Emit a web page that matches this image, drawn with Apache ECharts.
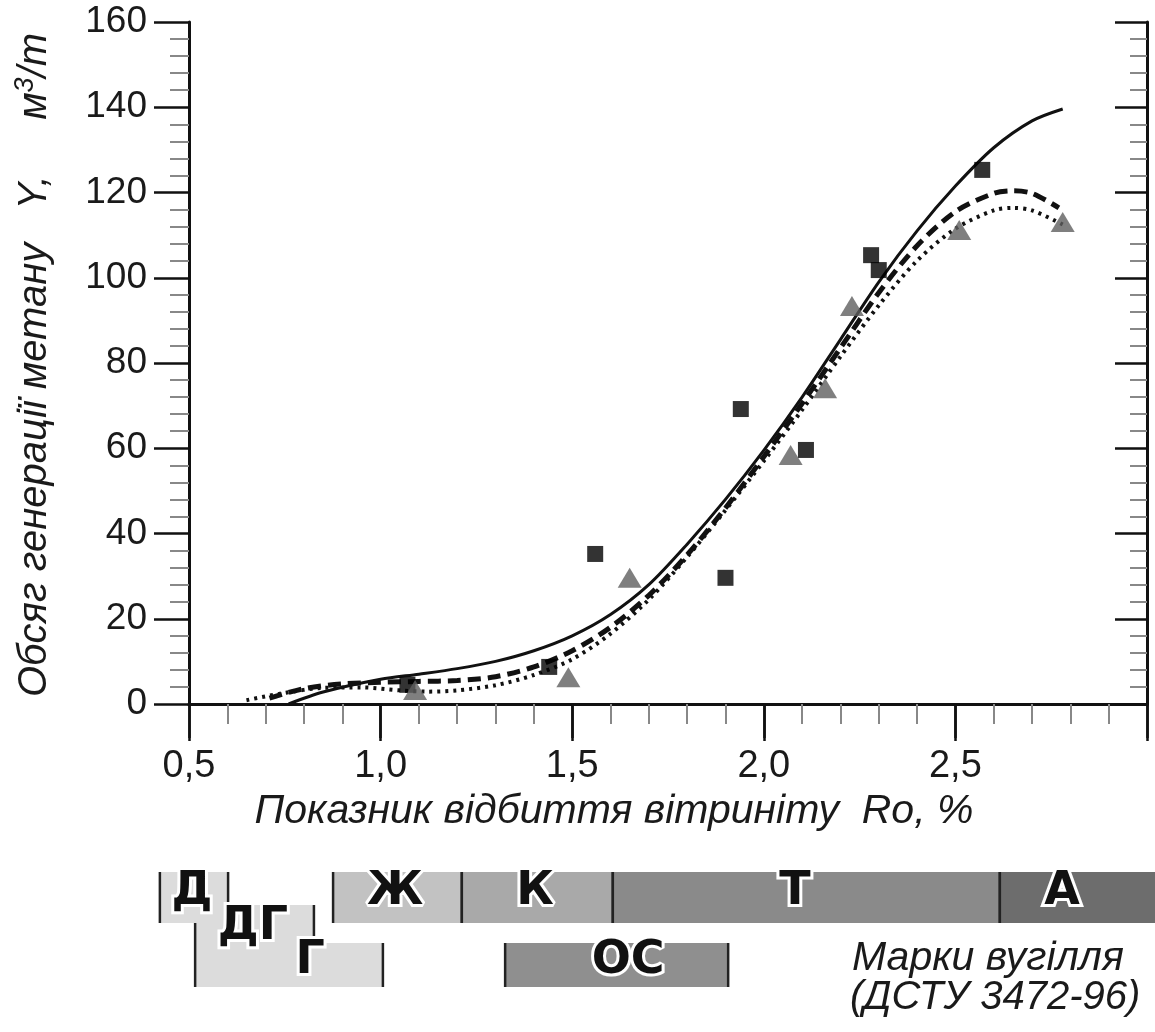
<!DOCTYPE html>
<html>
<head>
<meta charset="utf-8">
<script src="https://cdn.jsdelivr.net/npm/echarts@6/dist/echarts.min.js"></script>
<style>
  html, body { margin: 0; padding: 0; background: #fff; }
  #chart { width: 1155px; height: 1032px; }
</style>
</head>
<body>
<div id="chart"></div>
<script>
// measured points (Ro, %; Y, m3/t)
const squareRo = [1.07, 1.44, 1.56, 1.90, 1.94, 2.11, 2.28, 2.30, 2.57];
const squareY  = [4.5, 8.7, 35.2, 29.6, 69.2, 59.6, 105.3, 101.8, 125.3];
const triRo = [1.09, 1.49, 1.65, 2.07, 2.16, 2.23, 2.51, 2.78];
const triY  = [3.3, 6.3, 29.6, 58.4, 74.1, 93.4, 111.2, 113.1];

// fitted curves
const solidRo = [0.76, 0.85, 1.0, 1.1, 1.2, 1.3, 1.4, 1.5, 1.6, 1.7, 1.8, 1.9, 2.0, 2.1, 2.2, 2.3, 2.4, 2.5, 2.6, 2.7, 2.78];
const solidY  = [0, 2.8, 5.8, 7.0, 8.3, 10.0, 12.5, 16.0, 21.0, 28.0, 37.5, 48.0, 59.5, 72.0, 85.5, 99.0, 111.0, 121.5, 130.5, 136.8, 139.6];
const dashRo = [0.71, 0.8, 0.9, 1.0, 1.1, 1.2, 1.3, 1.4, 1.5, 1.6, 1.7, 1.8, 1.9, 2.0, 2.1, 2.2, 2.3, 2.4, 2.5, 2.6, 2.65, 2.7, 2.77];
const dashY  = [1.4, 3.6, 4.7, 5.1, 5.3, 5.5, 6.4, 8.7, 12.5, 18.0, 25.5, 35.0, 46.0, 58.0, 70.5, 83.5, 96.5, 107.5, 115.5, 119.8, 120.4, 119.8, 116.4];
const dotRo = [0.65, 0.75, 0.85, 0.95, 1.05, 1.12, 1.2, 1.3, 1.4, 1.5, 1.6, 1.7, 1.8, 1.9, 2.0, 2.1, 2.2, 2.3, 2.4, 2.5, 2.6, 2.65, 2.7, 2.78];
const dotY  = [0.9, 2.6, 3.8, 3.9, 3.2, 2.9, 3.2, 4.4, 6.8, 10.5, 16.5, 24.5, 34.5, 45.5, 57.0, 69.0, 81.5, 93.5, 104.0, 111.5, 115.8, 116.4, 115.8, 112.5];

// coal grades (ДСТУ 3472-96), Ro ranges; listed in drawing order
const gradeNames = ['ДГ', 'Д', 'Г', 'Ж', 'К', 'Т', 'А', 'ОС'];
const gradeFrom  = [0.516, 0.424, 0.516, 0.876, 1.212, 1.606, 2.616, 1.325];
const gradeTo    = [0.826, 0.602, 1.006, 1.212, 1.606, 2.616, 3.05, 1.907];
const gradeRow   = ['mid', 'top', 'low', 'top', 'top', 'top', 'top', 'low'];
const gradeLabelRo = [0.667, 0.508, 0.816, 1.038, 1.403, 2.081, 2.778, 1.646];

const pair = (xs, ys) => xs.map((x, i) => [x, ys[i]]);
const fmt = (v) => (Math.abs(v - 3) < 1e-9 ? '' : v.toFixed(1).replace('.', ','));

// band geometry in px below the top of the strip
const rowSpan = { top: [0, 51], mid: [33, 71], low: [71, 115] };
const rowText = { top: 20, mid: 55, low: 89 };
const gradeColor = { 'Д': '#dcdcdc', 'ДГ': '#dcdcdc', 'Г': '#dcdcdc', 'Ж': '#c2c2c2', 'К': '#a9a9a9', 'Т': '#8a8a8a', 'А': '#6d6d6d', 'ОС': '#8f8f8f' };

const FONT = 'Liberation Sans';
const chart = echarts.init(document.getElementById('chart'));

const bandData = gradeNames.map((n, i) => [gradeFrom[i], gradeTo[i], i]);
const labelData = gradeNames.map((n, i) => [gradeLabelRo[i], i]);

const option = {
  animation: false,
  grid: [
    { left: 189, top: 22, right: 8, bottom: 328 },
    { left: 189, top: 872, right: 8, height: 140 }
  ],
  xAxis: [
    {
      type: 'value', gridIndex: 0, position: 'bottom', min: 0.5, max: 3.0, interval: 0.5,
      axisLine: { lineStyle: { color: '#111', width: 3 } },
      axisTick: { inside: false, length: 34, lineStyle: { color: '#111', width: 2.5 } },
      minorTick: { show: true, splitNumber: 5, length: 17, lineStyle: { color: '#777', width: 2 } },
      axisLabel: { margin: 44, fontSize: 38, color: '#1a1a1a', fontFamily: FONT, formatter: fmt },
      splitLine: { show: false },
      name: 'Показник відбиття вітриніту  Ro, %',
      nameLocation: 'middle', nameGap: 82,
      nameTextStyle: { fontSize: 41, fontStyle: 'italic', color: '#1a1a1a', fontFamily: FONT, padding: [0, 108, 0, 0] }
    },
    {
      type: 'value', gridIndex: 0, position: 'top', min: 0.5, max: 3.0, interval: 0.5,
      axisLine: { lineStyle: { color: '#111', width: 3 } },
      axisTick: { inside: true, length: 37, lineStyle: { color: '#111', width: 2.5 } },
      minorTick: { show: true, splitNumber: 5, length: 20, lineStyle: { color: '#888', width: 2 } },
      axisLabel: { show: false },
      splitLine: { show: false }
    },
    { type: 'value', gridIndex: 1, min: 0.5, max: 3.0, show: false }
  ],
  yAxis: [
    {
      type: 'value', gridIndex: 0, position: 'left', min: 0, max: 160, interval: 20,
      axisLine: { show: true, lineStyle: { color: '#111', width: 3 } },
      axisTick: { show: true, inside: false, length: 35, lineStyle: { color: '#111', width: 2.5 } },
      minorTick: { show: true, splitNumber: 5, length: 19, lineStyle: { color: '#888', width: 2 } },
      axisLabel: { margin: 42, fontSize: 37, color: '#1a1a1a', fontFamily: FONT },
      splitLine: { show: false },
      name: 'Обсяг генерації метану   Y,     м{sup|3}/т',
      nameLocation: 'middle', nameRotate: 90, nameGap: 132,
      nameTextStyle: {
        fontSize: 40, fontStyle: 'italic', color: '#1a1a1a', fontFamily: FONT, padding: [0, 4, 0, 0],
        rich: { sup: { fontSize: 27, fontStyle: 'italic', fontFamily: FONT, color: '#1a1a1a', padding: [0, 0, 18, 0] } }
      }
    },
    {
      type: 'value', gridIndex: 0, position: 'right', min: 0, max: 160, interval: 20,
      axisLine: { show: true, lineStyle: { color: '#111', width: 3 } },
      axisTick: { show: true, inside: true, length: 32, lineStyle: { color: '#111', width: 2.5 } },
      minorTick: { show: true, splitNumber: 5, length: 17, lineStyle: { color: '#888', width: 2 } },
      axisLabel: { show: false },
      splitLine: { show: false }
    },
    { type: 'value', gridIndex: 1, min: 0, max: 140, inverse: true, show: false }
  ],
  graphic: [
    { type: 'text', left: 852, top: 938, style: { text: 'Марки вугілля', fontSize: 41, fontStyle: 'italic', fontFamily: FONT, fill: '#1a1a1a' } },
    { type: 'text', left: 850, top: 978, style: { text: '(ДСТУ 3472-96)', fontSize: 40, fontStyle: 'italic', fontFamily: FONT, fill: '#1a1a1a' } }
  ],
  series: [
    {
      type: 'line', xAxisIndex: 0, yAxisIndex: 0, data: pair(solidRo, solidY), smooth: 0.3,
      showSymbol: false, lineStyle: { color: '#111', width: 3 }, z: 3
    },
    {
      type: 'line', xAxisIndex: 0, yAxisIndex: 0, data: pair(dashRo, dashY), smooth: 0.3,
      showSymbol: false, lineStyle: { color: '#111', width: 5, type: [13, 7] }, z: 3
    },
    {
      type: 'line', xAxisIndex: 0, yAxisIndex: 0, data: pair(dotRo, dotY), smooth: 0.3,
      showSymbol: false, lineStyle: { color: '#111', width: 4, type: [3, 5] }, z: 3
    },
    {
      type: 'scatter', xAxisIndex: 0, yAxisIndex: 0, data: pair(squareRo, squareY),
      symbol: 'rect', symbolSize: 16, itemStyle: { color: '#000' }, z: 4
    },
    {
      type: 'scatter', xAxisIndex: 0, yAxisIndex: 0, data: pair(triRo, triY),
      symbol: 'triangle', symbolSize: [24, 20], itemStyle: { color: '#5f5f5f' }, z: 5
    },
    {
      type: 'custom', xAxisIndex: 2, yAxisIndex: 2, data: bandData, silent: true,
      renderItem: function (params, api) {
        const i = api.value(2);
        const span = rowSpan[gradeRow[i]];
        const p0 = api.coord([api.value(0), span[0]]);
        const p1 = api.coord([api.value(1), span[1]]);
        const bar = { stroke: '#222', lineWidth: 2.5 };
        return {
          type: 'group',
          children: [
            { type: 'rect', shape: { x: p0[0], y: p0[1], width: p1[0] - p0[0], height: p1[1] - p0[1] }, style: { fill: gradeColor[gradeNames[i]] } },
            { type: 'line', shape: { x1: p0[0], y1: p0[1], x2: p0[0], y2: p1[1] }, style: bar },
            { type: 'line', shape: { x1: p1[0], y1: p0[1], x2: p1[0], y2: p1[1] }, style: bar }
          ]
        };
      }
    },
    {
      type: 'custom', xAxisIndex: 2, yAxisIndex: 2, data: labelData, silent: true, z: 3,
      renderItem: function (params, api) {
        const i = api.value(1);
        const p = api.coord([api.value(0), rowText[gradeRow[i]]]);
        return {
          type: 'text', x: p[0], y: p[1],
          style: {
            text: gradeNames[i], fontSize: 46, fontWeight: 'bold', fontFamily: 'DejaVu Sans',
            fill: '#111', stroke: '#fff', lineWidth: 6, align: 'center', verticalAlign: 'middle'
          }
        };
      }
    }
  ]
};
chart.setOption(option);
</script>
</body>
</html>
